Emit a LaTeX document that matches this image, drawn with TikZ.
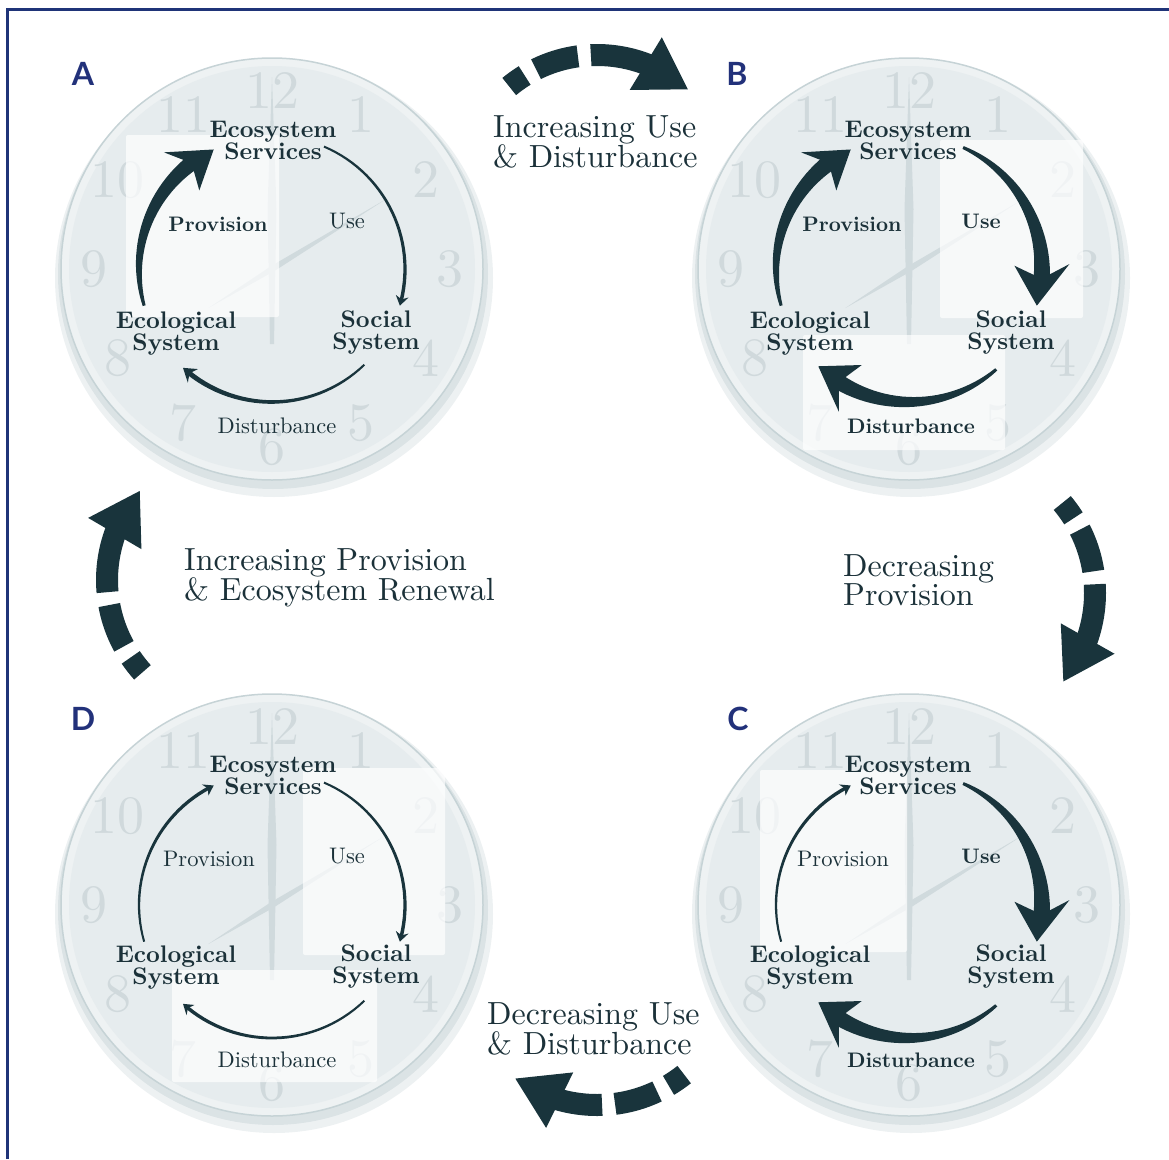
\documentclass[tikz,border=0pt]{standalone}
\usepackage{fontspec}
\setmainfont{lmroman10-regular}[Extension=.otf, BoldFont=lmroman10-bold]
\newfontfamily\panelfont{Lato}
\usetikzlibrary{arrows.meta,bending,positioning}

\definecolor{ink}{HTML}{1B3139}
\definecolor{arrowink}{HTML}{19343C}
\definecolor{panelblue}{HTML}{22317A}
\definecolor{framecol}{HTML}{1F3478}
\definecolor{facecol}{HTML}{E6ECEE}
\definecolor{rimcol}{HTML}{EEF2F3}
\definecolor{rimline}{HTML}{C6D3D6}
\definecolor{numcol}{HTML}{D0D9DC}
\definecolor{handcol}{HTML}{D0DADD}
\definecolor{shadowcol}{HTML}{B9C8CC}

% tapered cycle arrow: centre, start angle, tip angle, start width, end width, head width
\newcommand{\cycarrow}[6]{%
	\begin{scope}[shift={(#1)}]
		\pgfmathsetmacro{\cycB}{#3-0.75*#6*0.4308}
		\pgfmathsetmacro{\cycN}{#3-0.5*#6*0.4308}
		\pgfmathsetmacro{\cycE}{#3-0.4*#6*0.4308}
		\fill[cycfill] plot[domain=#2:\cycE, samples=30] (\x:{133+0.5*(#4+(#5-#4)*(\x-(#2))/(\cycE-(#2)))})
			-- plot[domain=\cycE:#2, samples=30] (\x:{133-0.5*(#4+(#5-#4)*(\x-(#2))/(\cycE-(#2)))}) -- cycle;
		\fill[cycfill] (\cycN:133) -- (\cycB:{133+#6/2}) -- (#3:133) -- (\cycB:{133-#6/2}) -- cycle;
	\end{scope}}

\tikzset{
	clocknum/.style={text=numcol, inner sep=0pt, font=\fontsize{54}{54}\selectfont},
	whitebox/.style={fill=white, fill opacity=0.7, rounded corners=2pt},
	sysl/.style={align=center, text=ink, inner sep=0pt, font=\bfseries\fontsize{24}{22}\selectfont},
	flowbold/.style={text=ink, inner sep=0pt, font=\bfseries\fontsize{21}{22}\selectfont},
	flowlight/.style={text=ink, inner sep=0pt, font=\fontsize{22.5}{22}\selectfont},
	trans/.style={align=left, anchor=west, text=ink, inner sep=0pt, font=\fontsize{32}{29}\selectfont},
	panel/.style={text=panelblue, inner sep=0pt, font=\panelfont\bfseries\fontsize{32}{32}\selectfont},
	cycfill/.style={fill=arrowink},
	bigarrow/.style={draw=arrowink, line width=22pt, dash pattern=on 19pt off 13pt on 44pt off 13pt on 600pt, -{Triangle[length=50pt, width=58pt]}},
	clockface/.pic={
		\fill[shadowcol, opacity=0.25] (2,9) circle (219);
		\fill[shadowcol, opacity=0.35] (1,5) circle (215);
		\filldraw[fill=rimcol, draw=rimline, line width=1.5pt] (0,0) circle (211);
		\fill[facecol] (0,0) circle (203);
		\foreach \n in {1,...,12}
			\node[clocknum] at ({30*\n-90}:178) {\n};
		\fill[handcol] (0,-192) -- (4.5,-60) -- (2,75) -- (-2,75) -- (-4.5,-60) -- cycle;
		\fill[handcol] (-31.5:135) -- (58.5:3) -- (148.5:75) -- (-121.5:3) -- cycle;
	}
}

\begin{document}
\begin{tikzpicture}[x=1pt, y=-1pt]
	\useasboundingbox (0,0) rectangle (1169,1159);
	\draw[framecol, line width=3pt] (7,1159) -- (7,9) -- (1169,9);

	\coordinate (cA) at (272,269);
	\coordinate (cB) at (909,269);
	\coordinate (cC) at (909,905);
	\coordinate (cD) at (272,905);

	\pic at (cA) {clockface};
	\pic at (cB) {clockface};
	\pic at (cC) {clockface};
	\pic at (cD) {clockface};

	% highlight panes
	\fill[whitebox] (126,135) rectangle (279,317);
	\fill[whitebox] (940,140) rectangle (1083,318);
	\fill[whitebox] (803,335) rectangle (1005,450);
	\fill[whitebox] (760,770) rectangle (907,952);
	\fill[whitebox] (303,768) rectangle (445,955);
	\fill[whitebox] (172,970) rectangle (377,1082);

	% panel letters
	\node[panel] (lA) at (83,74) {A};
	\node[panel] (lB) at (737,74) {B};
	\node[panel] (lC) at (738,719) {C};
	\node[panel] (lD) at (83,719) {D};

	% A
	\node[sysl] (A-es) at (273,140) {Ecosystem\\Services};
	\node[sysl] (A-eco) at (176,334) {Ecological\\System};
	\node[sysl] (A-soc) at (376,333) {Social\\System};
	\node[flowbold] (A-prov) at (218,224) {Provision};
	\node[flowlight] (A-use) at (347,221) {Use};
	\node[flowlight] (A-dist) at (277,426) {Disturbance};
	\cycarrow{cA}{-196}{-116}{3}{16}{52}
	\cycarrow{cA}{-67}{16}{2}{3.5}{13}
	\cycarrow{cA}{46}{132}{2}{5}{17}

	% B
	\node[sysl] (B-es) at (908,140) {Ecosystem\\Services};
	\node[sysl] (B-eco) at (810,334) {Ecological\\System};
	\node[sysl] (B-soc) at (1011,333) {Social\\System};
	\node[flowbold] (B-prov) at (852,224) {Provision};
	\node[flowbold] (B-use) at (981,221) {Use};
	\node[flowbold] (B-dist) at (911,426) {Disturbance};
	\cycarrow{cB}{-196}{-116}{3}{17}{52}
	\cycarrow{cB}{-66}{16}{3}{17}{55}
	\cycarrow{cB}{49}{133}{3}{16}{52}

	% C
	\node[sysl] (C-es) at (908,775) {Ecosystem\\Services};
	\node[sysl] (C-eco) at (810,968) {Ecological\\System};
	\node[sysl] (C-soc) at (1011,967) {Social\\System};
	\node[flowlight] (C-prov) at (843,859) {Provision};
	\node[flowbold] (C-use) at (981,856) {Use};
	\node[flowbold] (C-dist) at (911,1060) {Disturbance};
	\cycarrow{cC}{-196}{-116}{2}{3.5}{13}
	\cycarrow{cC}{-66}{16}{3}{17}{55}
	\cycarrow{cC}{49}{133}{3}{16}{52}

	% D
	\node[sysl] (D-es) at (273,775) {Ecosystem\\Services};
	\node[sysl] (D-eco) at (176,968) {Ecological\\System};
	\node[sysl] (D-soc) at (376,967) {Social\\System};
	\node[flowlight] (D-prov) at (209,859) {Provision};
	\node[flowlight] (D-use) at (347,856) {Use};
	\node[flowlight] (D-dist) at (277,1060) {Disturbance};
	\cycarrow{cD}{-196}{-116}{2}{3.5}{13}
	\cycarrow{cD}{-67}{16}{2}{3.5}{13}
	\cycarrow{cD}{46}{132}{2}{3.5}{13}

	% transitions between the clocks
	\node[trans] (tAB) at (493,142) {Increasing Use\\\& Disturbance};
	\node[trans] (tBC) at (843,580) {Decreasing\\Provision};
	\node[trans] (tCD) at (487,1029) {Decreasing Use\\\& Disturbance};
	\node[trans] (tDA) at (184,578) {Increasing Provision\\\& Ecosystem Renewal};

	\coordinate (arcT) at (597,193);
	\coordinate (arcR) at (955,593);
	\coordinate (arcB) at (597,965);
	\coordinate (arcL) at (245,580);
	\draw[bigarrow] ([shift={(-129.5:138)}]arcT) arc[start angle=-129.5, end angle=-48.5, radius=138];
	\draw[bigarrow] ([shift={(-40:140)}]arcR) arc[start angle=-40, end angle=39.5, radius=140];
	\draw[bigarrow] ([shift={(51.5:140)}]arcB) arc[start angle=51.5, end angle=126, radius=140];
	\draw[bigarrow] ([shift={(138:138)}]arcL) arc[start angle=138, end angle=220.5, radius=138];

\end{tikzpicture}
\end{document}
